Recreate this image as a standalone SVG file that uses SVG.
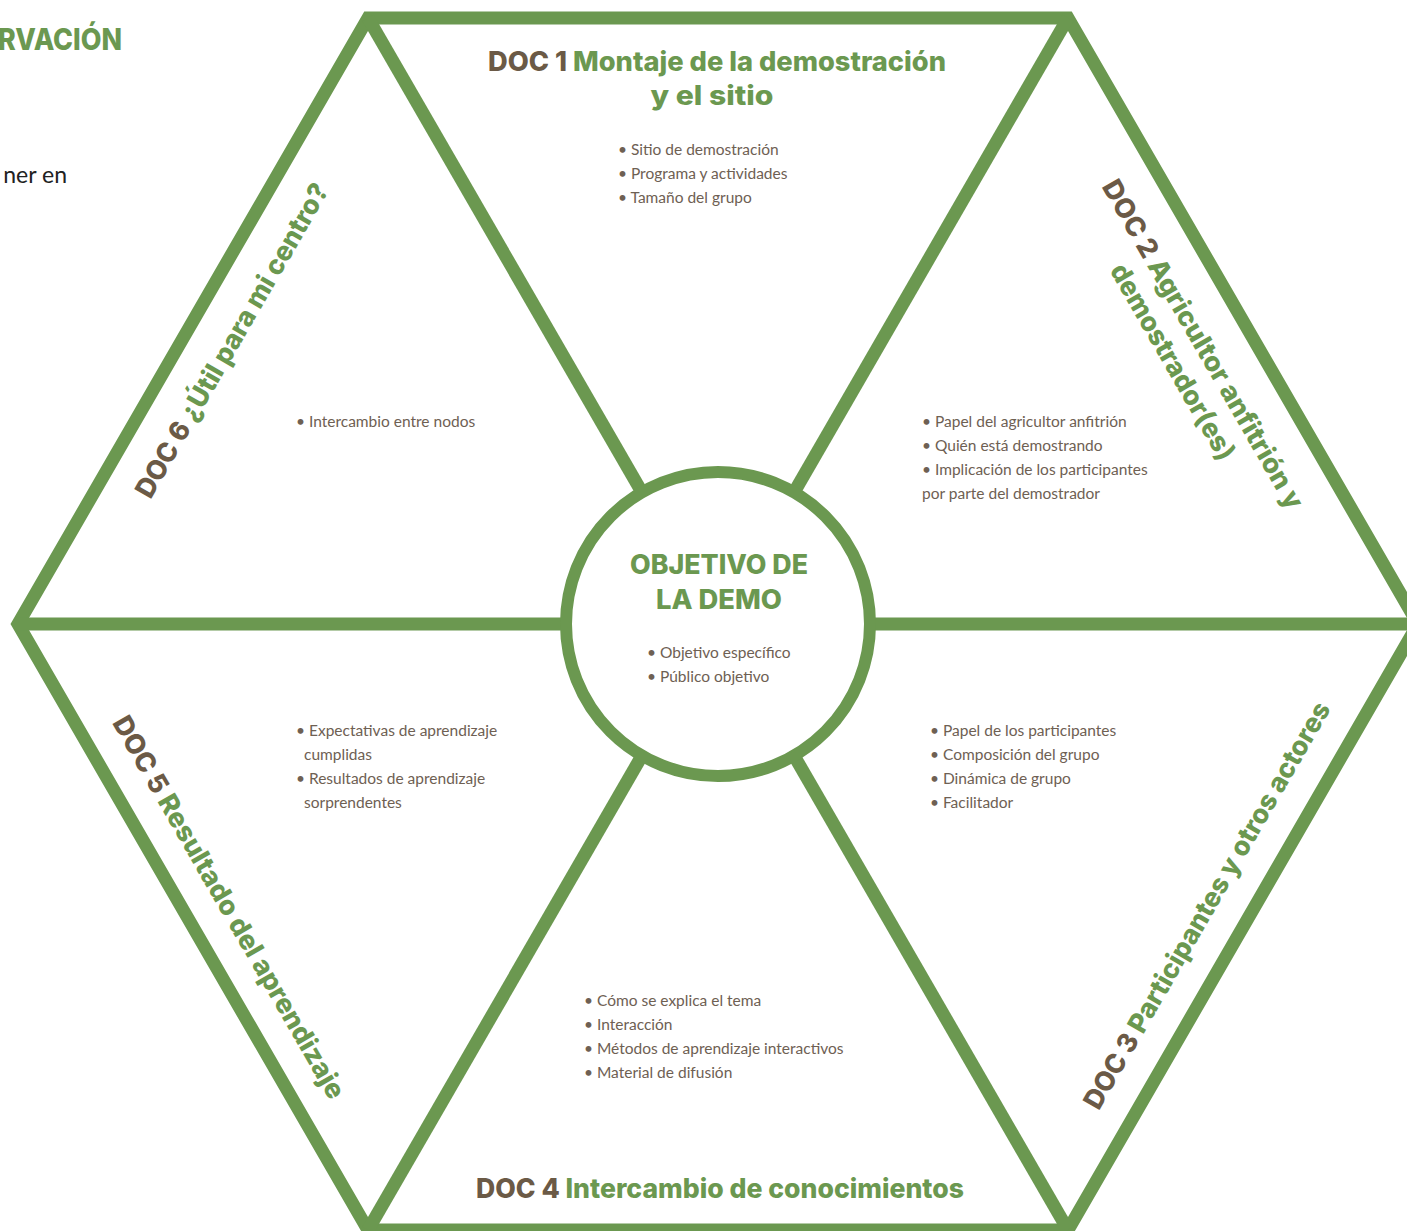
<svg xmlns="http://www.w3.org/2000/svg" width="1407" height="1231" viewBox="0 0 1407 1231">
<style>
.edge{fill:none;stroke:#6b9850;stroke-width:13;stroke-linejoin:miter;stroke-miterlimit:10}
.spoke{stroke:#6b9850;stroke-width:13;fill:none}
.title{font-family:Inter,Lato,"Liberation Sans",sans-serif;font-weight:800;font-size:27px;fill:#6b9850}
.doc{fill:#6b5a46}
.body{font-family:Lato,"Liberation Sans",sans-serif;font-size:15.5px;fill:#6e6053}
.page{font-family:Lato,"Liberation Sans",sans-serif}
</style>
<rect width="1407" height="1231" fill="#ffffff"/>
<g id="page-fragments">
<text x="122" y="50" text-anchor="end" font-family="Inter,Lato,sans-serif" font-size="30" font-weight="800" fill="#6b9850" textLength="124" lengthAdjust="spacingAndGlyphs">RVACIÓN</text>
<text class="page" x="67" y="183" text-anchor="end" font-size="23" fill="#222222">ner en</text>
</g>
<g id="connectors">
<polygon class="edge" points="1418,624 1068,18 368,18 18,624 368,1230 1068,1230"/>
<line class="spoke" x1="718" y1="624" x2="1418" y2="624"/>
<line class="spoke" x1="718" y1="624" x2="18" y2="624"/>
<line class="spoke" x1="718" y1="624" x2="368" y2="18"/>
<line class="spoke" x1="718" y1="624" x2="1068" y2="18"/>
<line class="spoke" x1="718" y1="624" x2="368" y2="1230"/>
<line class="spoke" x1="718" y1="624" x2="1068" y2="1230"/>
</g>
<g id="center">
<circle cx="718" cy="624" r="152" fill="#ffffff" stroke="#6b9850" stroke-width="12"/>
<text class="title" x="719" y="574" text-anchor="middle" textLength="178" lengthAdjust="spacingAndGlyphs">OBJETIVO DE</text>
<text class="title" x="719" y="609" text-anchor="middle" textLength="126" lengthAdjust="spacingAndGlyphs">LA DEMO</text>
<text class="body" x="647" y="658">• Objetivo específico</text>
<text class="body" x="647" y="682">• Público objetivo</text>
</g>
<g id="doc1">
<text class="title" x="717" y="71" text-anchor="middle" textLength="458" lengthAdjust="spacingAndGlyphs"><tspan class="doc">DOC 1</tspan> Montaje de la demostración</text>
<text class="title" x="712" y="105" text-anchor="middle" textLength="123" lengthAdjust="spacingAndGlyphs">y el sitio</text>
<text class="body" x="618" y="155">• Sitio de demostración</text>
<text class="body" x="618" y="179">• Programa y actividades</text>
<text class="body" x="618" y="203">• Tamaño del grupo</text>
</g>
<g id="doc2">
<g transform="translate(1195,349) rotate(60)">
<text class="title" x="0" y="0" text-anchor="middle" textLength="375" lengthAdjust="spacingAndGlyphs"><tspan class="doc">DOC 2</tspan> Agricultor anfitrión y</text>
<text class="title" x="0" y="35" text-anchor="middle" textLength="222" lengthAdjust="spacingAndGlyphs">demostrador(es)</text>
</g>
<text class="body" x="922" y="427">• Papel del agricultor anfitrión</text>
<text class="body" x="922" y="451">• Quién está demostrando</text>
<text class="body" x="922" y="475">• Implicación de los participantes</text>
<text class="body" x="922" y="499">por parte del demostrador</text>
</g>
<g id="doc3">
<g transform="translate(1215,910) rotate(-60)">
<text class="title" x="0" y="0" text-anchor="middle" textLength="465" lengthAdjust="spacingAndGlyphs"><tspan class="doc">DOC 3</tspan> Participantes y otros actores</text>
</g>
<text class="body" x="930" y="736">• Papel de los participantes</text>
<text class="body" x="930" y="760">• Composición del grupo</text>
<text class="body" x="930" y="784">• Dinámica de grupo</text>
<text class="body" x="930" y="808">• Facilitador</text>
</g>
<g id="doc4">
<text class="title" x="720" y="1198" text-anchor="middle" textLength="488" lengthAdjust="spacingAndGlyphs"><tspan class="doc">DOC 4</tspan> Intercambio de conocimientos</text>
<text class="body" x="584" y="1006">• Cómo se explica el tema</text>
<text class="body" x="584" y="1030">• Interacción</text>
<text class="body" x="584" y="1054">• Métodos de aprendizaje interactivos</text>
<text class="body" x="584" y="1078">• Material de difusión</text>
</g>
<g id="doc5">
<g transform="translate(221,912) rotate(60)">
<text class="title" x="0" y="0" text-anchor="middle" textLength="437" lengthAdjust="spacingAndGlyphs"><tspan class="doc">DOC 5</tspan> Resultado del aprendizaje</text>
</g>
<text class="body" x="296" y="736">• Expectativas de aprendizaje</text>
<text class="body" x="304" y="760">cumplidas</text>
<text class="body" x="296" y="784">• Resultados de aprendizaje</text>
<text class="body" x="304" y="808">sorprendentes</text>
</g>
<g id="doc6">
<g transform="translate(240,345) rotate(-60)">
<text class="title" x="0" y="0" text-anchor="middle" textLength="358" lengthAdjust="spacingAndGlyphs"><tspan class="doc">DOC 6</tspan> ¿Útil para mi centro?</text>
</g>
<text class="body" x="296" y="427">• Intercambio entre nodos</text>
</g>
</svg>
